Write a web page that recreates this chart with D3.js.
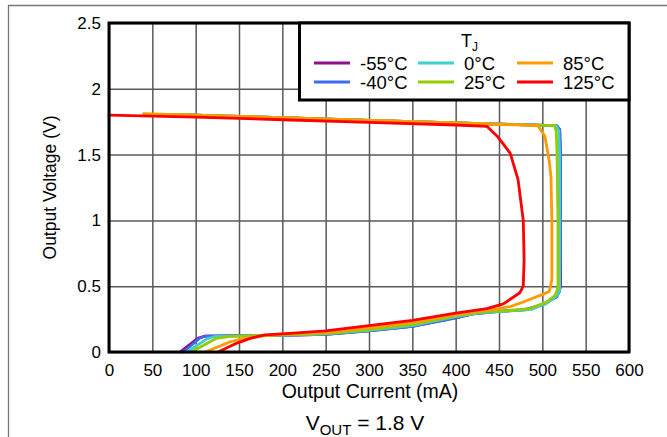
<!DOCTYPE html>
<html>
<head>
<meta charset="utf-8">
<script src="https://cdn.jsdelivr.net/npm/d3@7"></script>
<style>
  html, body { margin: 0; padding: 0; background: #fff; }
  svg { display: block; font-family: "Liberation Sans", Arial, Helvetica, sans-serif; }
</style>
</head>
<body>
<div id="chart"></div>
<script>
// ---- Data (Output Current mA, Output Voltage V) ----
const temps = ["-55°C", "-40°C", "0°C", "25°C", "85°C", "125°C"];
const colors = ["#8B108B", "#3F6BF2", "#3FCFD0", "#93CC00", "#FF9A00", "#FF0000"];
const xTicks = [0, 50, 100, 150, 200, 250, 300, 350, 400, 450, 500, 550, 600];
const yTicks = [0, 0.5, 1, 1.5, 2, 2.5];
const yTickLabels = ["0", "0.5", "1", "1.5", "2", "2.5"];

const tjMinus55 = [[75,1.805],[100,1.80],[200,1.78],[300,1.76],[400,1.74],[516,1.72],[520,1.69],[521,1.5],[521,1.0],[521,0.5],[519,0.45],[503,0.365],[482,0.322],[450,0.308],[420,0.29],[400,0.26],[350,0.195],[300,0.16],[250,0.135],[200,0.127],[150,0.124],[110,0.12],[103,0.105],[99,0.086],[82,0]];
const tjMinus40 = [[80,1.805],[100,1.80],[200,1.78],[300,1.76],[400,1.74],[517,1.72],[520,1.69],[521,1.5],[521,1.0],[520,0.47],[517,0.42],[500,0.36],[480,0.322],[450,0.308],[420,0.29],[400,0.26],[350,0.195],[300,0.16],[250,0.135],[200,0.127],[150,0.124],[111,0.12],[105,0.106],[86,0]];
const tj0 = [[60,1.808],[100,1.80],[200,1.78],[300,1.76],[400,1.74],[516,1.72],[519,1.68],[520,1.5],[520,1.0],[520,0.47],[517,0.43],[505,0.37],[488,0.325],[460,0.31],[430,0.30],[400,0.268],[350,0.20],[300,0.165],[250,0.137],[200,0.128],[122,0.118],[113,0.10],[90,0]];
const tj25 = [[40,1.81],[100,1.80],[200,1.78],[300,1.76],[400,1.74],[514,1.72],[516,1.68],[517,1.5],[518,1.0],[518,0.49],[515,0.43],[505,0.38],[486,0.33],[460,0.315],[430,0.305],[400,0.275],[350,0.21],[300,0.17],[250,0.14],[200,0.13],[140,0.118],[124,0.104],[95,0]];
const tj85 = [[40,1.81],[100,1.80],[200,1.78],[300,1.76],[400,1.74],[495,1.72],[503,1.64],[508,1.45],[510,1.33],[511,1.0],[511,0.55],[508,0.46],[501,0.44],[478,0.38],[463,0.345],[440,0.32],[420,0.305],[400,0.285],[350,0.225],[300,0.185],[250,0.15],[200,0.135],[174,0.12],[157,0.106],[140,0.078],[111,0]];
const tj125 = [[0,1.80],[100,1.785],[200,1.765],[300,1.745],[400,1.725],[436,1.715],[448,1.64],[463,1.51],[472,1.31],[478,1.0],[479,0.7],[478,0.5],[474,0.45],[455,0.365],[436,0.33],[420,0.315],[400,0.295],[350,0.24],[300,0.20],[250,0.16],[200,0.137],[180,0.13],[163,0.104],[147,0.066],[126,0]];
const seriesData = [tjMinus55, tjMinus40, tj0, tj25, tj85, tj125];

// ---- Layout ----
const W = 667, H = 437;
const L = 109, R = 629, T = 23, B = 352;

const svg = d3.select("#chart").append("svg").attr("width", W).attr("height", H);

// outer frame
svg.append("line").attr("x1", 8).attr("x2", W).attr("y1", 5.5).attr("y2", 5.5).attr("stroke", "#777").attr("stroke-width", 1.3);
svg.append("line").attr("x1", 8.5).attr("x2", 8.5).attr("y1", 5).attr("y2", H).attr("stroke", "#777").attr("stroke-width", 1.3);

const x = d3.scaleLinear().domain([0, 600]).range([L, R]);
const y = d3.scaleLinear().domain([0, 2.5]).range([B, T]);

// grid
const gx = svg.append("g").attr("transform", `translate(0,${B})`)
  .call(d3.axisBottom(x).tickValues(xTicks).tickSize(-(B - T)).tickFormat(""));
gx.select(".domain").remove();
gx.selectAll("line").attr("stroke", "#5a5a5a").attr("stroke-width", 1.5);
const gy = svg.append("g").attr("transform", `translate(${L},0)`)
  .call(d3.axisLeft(y).tickValues(yTicks).tickSize(-(R - L)).tickFormat(""));
gy.select(".domain").remove();
gy.selectAll("line").attr("stroke", "#5a5a5a").attr("stroke-width", 1.5);

// tick labels
const ax = svg.append("g").attr("transform", `translate(0,${B})`)
  .call(d3.axisBottom(x).tickValues(xTicks).tickSize(0).tickPadding(12).tickFormat(d3.format("d")));
ax.select(".domain").remove();
ax.selectAll("text").attr("font-size", 17).attr("fill", "#000").attr("font-family", null);
const ay = svg.append("g").attr("transform", `translate(${L},0)`)
  .call(d3.axisLeft(y).tickValues(yTicks).tickSize(0).tickPadding(8).tickFormat((d, i) => yTickLabels[i]));
ay.select(".domain").remove();
ay.selectAll("text").attr("font-size", 17).attr("fill", "#000").attr("font-family", null);

// curves
const line = d3.line().x(d => x(d[0])).y(d => y(d[1])).curve(d3.curveLinear);
seriesData.forEach((s, i) => {
  svg.append("path").datum(s).attr("d", line)
    .attr("fill", "none").attr("stroke", colors[i]).attr("stroke-width", 2.8)
    .attr("stroke-linejoin", "round").attr("stroke-linecap", "round");
});

// plot border
svg.append("rect").attr("x", L).attr("y", T).attr("width", R - L).attr("height", B - T)
  .attr("fill", "none").attr("stroke", "#000").attr("stroke-width", 3);

// legend
const lg = svg.append("g");
lg.append("rect").attr("x", 299.5).attr("y", T).attr("width", R - 299.5).attr("height", 100 - T)
  .attr("fill", "#fff").attr("stroke", "#000").attr("stroke-width", 3);
const tj = lg.append("text").attr("x", 461).attr("y", 47).attr("font-size", 18);
tj.append("tspan").text("T");
tj.append("tspan").attr("dy", 4).attr("font-size", 12).text("J");
const colX = [314, 418, 517];
const rowY = [63, 82];
const order = [[0, 0, 0], [1, 0, 1], [2, 1, 0], [3, 1, 1], [4, 2, 0], [5, 2, 1]];
order.forEach(([i, c, r]) => {
  lg.append("line").attr("x1", colX[c]).attr("x2", colX[c] + 36)
    .attr("y1", rowY[r]).attr("y2", rowY[r]).attr("stroke", colors[i]).attr("stroke-width", 3);
  lg.append("text").attr("x", colX[c] + 46).attr("y", rowY[r] + 6.5).attr("font-size", 18.5).text(temps[i]);
});

// axis titles
svg.append("text").attr("x", (L + R) / 2 + 1).attr("y", 398).attr("text-anchor", "middle")
  .attr("font-size", 19.5).text("Output Current (mA)");
svg.append("text").attr("transform", `translate(56,${(T + B) / 2}) rotate(-90)`).attr("text-anchor", "middle")
  .attr("font-size", 17.5).text("Output Voltage (V)");

// footer
const ft = svg.append("text").attr("x", 365).attr("y", 430).attr("text-anchor", "middle").attr("font-size", 21);
ft.append("tspan").text("V");
ft.append("tspan").attr("dy", 5).attr("font-size", 15).text("OUT");
ft.append("tspan").attr("dy", -5).text(" = 1.8 V");
</script>
</body>
</html>
